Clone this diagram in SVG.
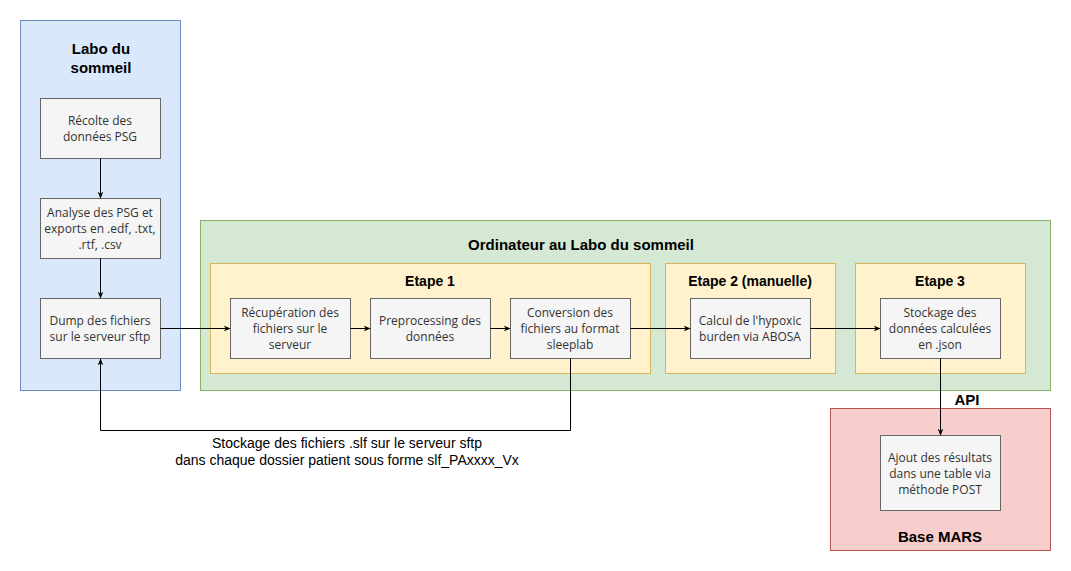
<svg xmlns="http://www.w3.org/2000/svg" width="1071" height="571" viewBox="0 0 1071 571">
<style>
.box{fill:#f5f5f5;stroke:#666666;stroke-width:1}
.bt{font-family:"Open Sans","Liberation Sans",sans-serif;font-size:12px;fill:#333333;text-anchor:middle}
.tt{font-family:"Liberation Sans",Arial,sans-serif;font-weight:bold;fill:#000;text-anchor:middle}
.ln{fill:none;stroke:#000;stroke-width:1}
.lb{font-family:"Liberation Sans",Arial,sans-serif;font-size:14px;fill:#000;text-anchor:middle}
</style>
<defs>
<marker id="ah" viewBox="0 0 10 10" refX="9" refY="5" markerWidth="7" markerHeight="7" orient="auto" markerUnits="userSpaceOnUse">
<path d="M0,1 L10,5 L0,9 L3,5 Z" fill="#000"/>
</marker>
</defs>
<rect width="1071" height="571" fill="#ffffff"/>
<g id="labo">
<rect x="20.5" y="20.5" width="160" height="370" fill="#dae8fc" stroke="#6c8ebf"/>
<text class="tt" font-size="15" x="101" y="54">Labo du</text>
<text class="tt" font-size="15" x="101" y="73">sommeil</text>
</g>
<g id="ordinateur">
<rect x="200.5" y="220.5" width="850" height="170" fill="#d5e8d4" stroke="#82b366"/>
<text class="tt" font-size="15" x="581" y="250">Ordinateur au Labo du sommeil</text>
</g>
<g id="etape1">
<rect x="210.5" y="263.5" width="440" height="110" fill="#fff2cc" stroke="#d6b656"/>
<text class="tt" font-size="14" x="430" y="286">Etape 1</text>
</g>
<g id="etape2">
<rect x="665.5" y="263.5" width="170" height="110" fill="#fff2cc" stroke="#d6b656"/>
<text class="tt" font-size="14" x="750" y="286">Etape 2 (manuelle)</text>
</g>
<g id="etape3">
<rect x="855.5" y="263.5" width="170" height="110" fill="#fff2cc" stroke="#d6b656"/>
<text class="tt" font-size="14" x="940" y="286">Etape 3</text>
</g>
<g id="mars">
<rect x="830.5" y="408.5" width="220" height="142" fill="#f8cecc" stroke="#b85450"/>
<text class="tt" font-size="15" x="940" y="542">Base MARS</text>
</g>
<g id="recolte">
<rect class="box" x="40.5" y="98.5" width="120" height="60"/>
<text class="bt" x="100" y="125">Récolte des</text>
<text class="bt" x="100" y="141">données PSG</text>
</g>
<g id="analyse">
<rect class="box" x="40.5" y="198.5" width="120" height="60"/>
<text class="bt" x="100" y="217">Analyse des PSG et</text>
<text class="bt" x="100" y="233">exports en .edf, .txt,</text>
<text class="bt" x="100" y="249">.rtf, .csv</text>
</g>
<g id="dump">
<rect class="box" x="40.5" y="298.5" width="120" height="60"/>
<text class="bt" x="100" y="325">Dump des fichiers</text>
<text class="bt" x="100" y="341">sur le serveur sftp</text>
</g>
<g id="recuperation">
<rect class="box" x="230.5" y="298.5" width="120" height="60"/>
<text class="bt" x="290" y="317">Récupération des</text>
<text class="bt" x="290" y="333">fichiers sur le</text>
<text class="bt" x="290" y="349">serveur</text>
</g>
<g id="preprocessing">
<rect class="box" x="370.5" y="298.5" width="120" height="60"/>
<text class="bt" x="430" y="325">Preprocessing des</text>
<text class="bt" x="430" y="341">données</text>
</g>
<g id="conversion">
<rect class="box" x="510.5" y="298.5" width="120" height="60"/>
<text class="bt" x="570" y="317">Conversion des</text>
<text class="bt" x="570" y="333">fichiers au format</text>
<text class="bt" x="570" y="349">sleeplab</text>
</g>
<g id="calcul">
<rect class="box" x="690.5" y="298.5" width="120" height="60"/>
<text class="bt" x="750" y="325">Calcul de l'hypoxic</text>
<text class="bt" x="750" y="341">burden via ABOSA</text>
</g>
<g id="stockage">
<rect class="box" x="880.5" y="298.5" width="120" height="60"/>
<text class="bt" x="940" y="317">Stockage des</text>
<text class="bt" x="940" y="333">données calculées</text>
<text class="bt" x="940" y="349">en .json</text>
</g>
<g id="ajout">
<rect class="box" x="880.5" y="435.5" width="120" height="75"/>
<text class="bt" x="940" y="462">Ajout des résultats</text>
<text class="bt" x="940" y="478">dans une table via</text>
<text class="bt" x="940" y="494">méthode POST</text>
</g>
<g id="connectors">
<path class="ln" d="M100.5,158.5 V198" marker-end="url(#ah)"/>
<path class="ln" d="M100.5,258.5 V298" marker-end="url(#ah)"/>
<path class="ln" d="M160.5,328.5 H230" marker-end="url(#ah)"/>
<path class="ln" d="M350.5,328.5 H370" marker-end="url(#ah)"/>
<path class="ln" d="M490.5,328.5 H510" marker-end="url(#ah)"/>
<path class="ln" d="M630.5,328.5 H690" marker-end="url(#ah)"/>
<path class="ln" d="M810.5,328.5 H880" marker-end="url(#ah)"/>
<path class="ln" d="M940.5,358.5 V435" marker-end="url(#ah)"/>
<path class="ln" d="M570.5,358.5 V430.5 H100.5 V359" marker-end="url(#ah)"/>
<text class="tt" font-size="15" x="967" y="405">API</text>
<text class="lb" x="347" y="448">Stockage des fichiers .slf sur le serveur sftp</text>
<text class="lb" x="347" y="465">dans chaque dossier patient sous forme slf_PAxxxx_Vx</text>
</g>
</svg>
